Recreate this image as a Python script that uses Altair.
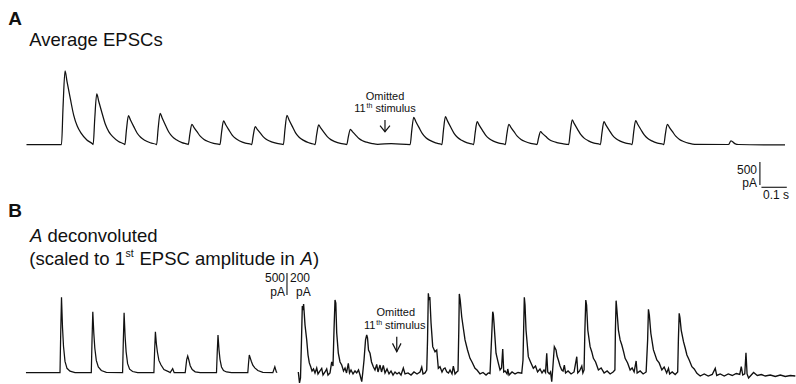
import altair as alt
import pandas as pd

FONT = "Liberation Sans"
INK = "#111111"

# ---------------- Panel A: average EPSCs (pA, ms) ----------------
a_stim_ms = [0, 125, 250, 375, 500, 625, 750, 875, 1000, 1125,
             1375, 1500, 1625, 1750, 1875, 2000, 2125, 2250, 2375]
a_offset_ms = [0, 6, 14, 22, 35, 48, 62, 78, 100, 122]
a_epsc_pA = [
    [0, 800, 1598, 1360, 990, 640, 400, 240, 96, 16],
    [0, 550, 1098, 935, 680, 440, 275, 165, 66, 11],
    [0, 313, 626, 532, 388, 250, 157, 94, 38, 6],
    [0, 339, 678, 576, 420, 271, 170, 102, 41, 7],
    [0, 220, 439, 373, 272, 176, 110, 66, 26, 4],
    [0, 256, 511, 434, 317, 204, 128, 77, 31, 5],
    [0, 194, 387, 329, 240, 155, 97, 58, 23, 4],
    [0, 318, 635, 540, 394, 254, 159, 95, 38, 6],
    [0, 212, 424, 360, 263, 170, 106, 64, 25, 4],
    [0, 165, 330, 281, 205, 132, 83, 50, 20, 3],
    [0, 296, 591, 502, 366, 236, 148, 89, 35, 6],
    [0, 302, 604, 513, 374, 242, 151, 91, 36, 6],
    [0, 248, 496, 422, 308, 198, 124, 74, 30, 5],
    [0, 220, 439, 373, 272, 176, 110, 66, 26, 4],
    [0, 139, 278, 236, 172, 111, 70, 42, 17, 3],
    [0, 267, 533, 453, 330, 213, 133, 80, 32, 5],
    [0, 248, 496, 422, 308, 198, 124, 74, 30, 5],
    [0, 259, 517, 439, 321, 207, 129, 78, 31, 5],
    [0, 220, 439, 373, 272, 176, 110, 66, 26, 4],
]
a_extra_ms = [-138, -5, 1300, 2630, 2640, 2655, 2670, 2853]
a_extra_pA = [0, 0, 20, 0, 80, 20, 0, -10]

# ---------------- Panel B left: deconvoluted, stimuli 1-7 ----------------
bl_stim_ms = [0, 125, 250, 375, 500, 625, 750]
bl_offset_ms = [0, 3, 6, 10, 14, 20, 28, 40, 60]
bl_pA = [
    [0, 940, 1714, 1030, 600, 257, 100, 34, 0],
    [0, 760, 1387, 900, 560, 280, 130, 50, 10],
    [0, 750, 1364, 820, 480, 205, 80, 27, 0],
    [0, 510, 932, 650, 470, 280, 180, 70, 20],
    [0, 150, 300, 380, 300, 160, 70, 20, 0],
    [0, 470, 857, 520, 300, 130, 50, 17, 0],
    [0, 220, 402, 330, 260, 170, 110, 50, 10],
]
bl_extra_ms = [-136, 440, 450, 456, 850, 858, 864, 867]
bl_extra_pA = [0, 0, 90, 0, 0, 136, 20, 0]

# ---------------- Panel B right: deconvoluted, stimuli 8-20 (200 pA scale) ----------------
br_ms = [859.8, 864.6, 868.6, 872.6, 875.8, 878.6, 881.0, 886.6, 893.4, 898.6,
         903.8, 909.4, 914.6, 920.6, 926.5, 933.3, 938.5, 946.5, 953.3, 958.5,
         966.5, 973.2, 978.4, 986.4, 993.2, 998.4, 1002.4, 1006.4, 1009.6, 1013.2,
         1019.6, 1026.4, 1033.2, 1040.4, 1046.4, 1052.4, 1059.5, 1064.3, 1070.3, 1078.3,
         1086.3, 1093.1, 1100.3, 1106.3, 1113.1, 1117.1, 1122.3, 1128.3, 1133.0, 1136.2,
         1140.2, 1146.2, 1152.2, 1159.4, 1166.1, 1172.9, 1178.1, 1186.1, 1192.1, 1199.3,
         1206.1, 1214.1, 1222.1, 1230.1, 1238.1, 1246.1, 1254.1, 1262.0, 1270.0, 1279.2,
         1286.0, 1298.0, 1310.0, 1321.9, 1333.9, 1345.9, 1352.7, 1357.9, 1365.9, 1372.7,
         1375.9, 1379.1, 1381.9, 1385.1, 1389.9, 1396.6, 1405.8, 1412.6, 1419.0, 1425.7,
         1433.7, 1439.7, 1445.7, 1452.5, 1459.7, 1465.7, 1473.7, 1478.9, 1485.7, 1492.5,
         1497.6, 1500.8, 1502.8, 1506.4, 1512.4, 1517.6, 1525.6, 1535.6, 1545.5, 1553.5,
         1565.5, 1573.5, 1585.5, 1597.5, 1609.5, 1618.6, 1625.4, 1631.4, 1636.2, 1638.6,
         1641.4, 1649.4, 1657.4, 1665.4, 1671.4, 1676.2, 1680.2, 1685.4, 1693.4, 1696.2,
         1701.4, 1713.4, 1725.4, 1737.3, 1752.1, 1757.2, 1762.4, 1765.2, 1769.2, 1778.4,
         1787.2, 1798.4, 1807.2, 1815.2, 1825.1, 1833.1, 1841.1, 1847.1, 1851.9, 1855.9,
         1862.3, 1867.1, 1871.9, 1877.1, 1882.3, 1889.1, 1893.1, 1898.3, 1905.1, 1911.9,
         1917.1, 1922.3, 1927.1, 1937.1, 1949.1, 1961.1, 1971.9, 1975.9, 1983.1, 1991.9,
         1996.3, 2001.1, 2004.3, 2007.9, 2011.1, 2015.9, 2025.1, 2031.9, 2038.3, 2047.1,
         2058.3, 2069.1, 2081.1, 2093.1, 2105.1, 2117.0, 2124.2, 2126.2, 2129.0, 2132.2,
         2138.2, 2145.0, 2151.8, 2159.0, 2165.0, 2175.0, 2185.0, 2193.0, 2201.0, 2209.0,
         2213.0, 2225.0, 2236.9, 2248.9, 2254.9, 2258.1, 2261.7, 2267.7, 2278.1, 2291.7,
         2300.9, 2311.7, 2320.9, 2330.9, 2338.1, 2342.9, 2352.9, 2364.9, 2374.9, 2377.7,
         2380.9, 2384.1, 2388.9, 2398.1, 2404.9, 2411.7, 2420.9, 2431.7, 2440.9, 2451.7,
         2464.9, 2480.9, 2496.9, 2512.9, 2524.9, 2530.9, 2544.8, 2560.8, 2576.8, 2592.8,
         2608.8, 2622.8, 2628.8, 2634.8, 2642.8, 2647.6, 2652.0, 2658.0, 2668.8, 2678.0,
         2692.8, 2708.8, 2724.8, 2744.8, 2764.8, 2784.8, 2804.8, 2824.7, 2844.7]
br_pA = [23, -77, -32, 314, 623, 586, 641, 450, 314, 177,
         105, 71, 32, 50, 14, 59, 5, 32, 55, -5,
         23, 50, -5, 14, 114, 77, 404, 677, 650, 377,
         195, 114, 86, 32, 59, 14, 102, 14, 41, 5,
         32, 14, 41, -5, -65, 14, 132, 314, 359, 332,
         223, 193, 114, 71, 41, 91, 23, 86, 23, 82,
         14, 50, 5, 32, -5, 23, 5, 18, -5, 59,
         5, 14, -5, 23, 5, 23, 68, 5, 14, 41,
         314, 738, 677, 704, 468, 253, 207, 223, 56, 71,
         23, 50, 59, 25, 14, 41, 5, 77, 5, 23,
         32, 404, 732, 677, 525, 441, 314, 223, 147, 114,
         56, 41, 5, 18, -5, 14, 9, 314, 571, 550,
         465, 193, 114, 41, 59, 232, 23, 32, 5, 50,
         -5, 23, 5, 18, 11, 132, 702, 632, 404, 162,
         114, 56, 77, 23, 50, 14, 41, 18, 193, 23,
         5, 23, -65, 86, 253, 223, 168, 132, 77, 41,
         32, 86, 14, 32, 5, 23, 162, 14, 32, 77,
         14, 41, 404, 677, 632, 404, 253, 205, 147, 114,
         41, 59, 14, 32, 5, 23, 41, 404, 671, 586,
         404, 314, 268, 205, 147, 105, 41, 59, 23, 123,
         14, 32, 5, 23, 314, 593, 541, 375, 223, 132,
         105, 41, 68, 14, 56, 5, 23, 0, 23, 314,
         556, 514, 404, 298, 241, 177, 132, 71, 50, 11,
         -14, 5, -14, 0, 56, -9, 5, -14, 5, -9,
         9, 0, 71, -5, 5, 198, 5, -32, -5, 18,
         -9, 0, -14, -5, -18, -5, -18, -9, -14]

# annotation anchors (data units)
omit_a_ms, omit_a_top_pA, omit_a_tip_pA = 1275.6, 532, 278
omit_b_ms, omit_b_top_pA, omit_b_tip_pA = 1253, 344, 207

# ---------------- build tables ----------------
def trace(stims, offsets, values, extra_t, extra_v):
    rows = [(s + o, v) for s, vals in zip(stims, values) for o, v in zip(offsets, vals)]
    rows += list(zip(extra_t, extra_v))
    return pd.DataFrame(rows, columns=["t", "i"]).sort_values("t")

a_df = trace(a_stim_ms, a_offset_ms, a_epsc_pA, a_extra_ms, a_extra_pA)
bl_df = trace(bl_stim_ms, bl_offset_ms, bl_pA, bl_extra_ms, bl_extra_pA)
br_df = pd.DataFrame({"t": br_ms, "i": br_pA})

def sc(lo, hi):
    return alt.Scale(domain=[lo, hi], nice=False, zero=False)

XA, YA = sc(-242.5, 2896.3), sc(-5206.7, 3141.4)
XBL, YBL = sc(-239.6, 2939.3), sc(-256.8, 8471.5)
XBR, YBR = sc(-331.5, 2847.4), sc(-86.4, 3404.2)


def line(df, xs, ys, width=1.2, interp="linear"):
    return alt.Chart(df).mark_line(color=INK, strokeWidth=width, interpolate=interp).encode(
        x=alt.X("t:Q", scale=xs, axis=None), y=alt.Y("i:Q", scale=ys, axis=None))


def vrule(t, i1, i2, xs, ys, width=1.1):
    return alt.Chart(pd.DataFrame({"t": [t], "i": [i1], "i2": [i2]})).mark_rule(
        color=INK, strokeWidth=width).encode(
        x=alt.X("t:Q", scale=xs, axis=None), y=alt.Y("i:Q", scale=ys, axis=None), y2="i2:Q")


def hrule(t1, t2, i, xs, ys, width=1.1):
    return alt.Chart(pd.DataFrame({"t": [t1], "t2": [t2], "i": [i]})).mark_rule(
        color=INK, strokeWidth=width).encode(
        x=alt.X("t:Q", scale=xs, axis=None), x2="t2:Q", y=alt.Y("i:Q", scale=ys, axis=None))


def arrow(t, top, tip, half_ms, head_pA, xs, ys):
    head = pd.DataFrame({"t": [t - half_ms, t, t + half_ms], "i": [tip + head_pA, tip, tip + head_pA]})
    return [vrule(t, top, tip, xs, ys, 1.2), line(head, xs, ys, 1.2)]


def label(text, x, y, size, weight="normal", style="normal", align="left"):
    return alt.Chart(pd.DataFrame({"k": [0]})).mark_text(
        font=FONT, fontSize=size, fontWeight=weight, fontStyle=style, align=align,
        baseline="alphabetic", color=INK).encode(
        x=alt.value(x), y=alt.value(y), text=alt.value(text))


layers = [
    line(a_df, XA, YA, 1.25, "monotone"),
    line(bl_df, XBL, YBL, 1.25),
    line(br_df, XBR, YBR, 1.35),
    # scale bars
    vrule(2754, -380, -880, XA, YA),
    hrule(2760, 2860, -930, XA, YA),
    vrule(906.5, 1766, 2266, XBL, YBL),
]
layers += arrow(omit_a_ms, omit_a_top_pA, omit_a_tip_pA, 19.5, 131, XA, YA)
layers += arrow(omit_b_ms, omit_b_top_pA, omit_b_tip_pA, 17, 76, XBR, YBR)

H = 18.5
layers += [
    label("A", 8.3, 25, 19, weight="bold"),
    label("Average EPSCs", 29.3, 45.7, H),
    label("B", 8.3, 217, 19, weight="bold"),
    label("A", 30, 242, H, style="italic"),
    label("deconvoluted", 47.4, 242, H),
    label("(scaled to 1", 29.3, 265, H),
    label("st", 125.4, 257, 10.5),
    label("EPSC amplitude in", 139.5, 265, H),
    label("A", 300.5, 265, H, style="italic"),
    label(")", 313, 265, H),
    # omitted annotations
    label("Omitted", 385, 100, 11, align="center"),
    label("11", 354.3, 112.3, 11),
    label("th", 366.5, 108, 7),
    label("stimulus", 375.4, 112.3, 11),
    label("Omitted", 395.8, 316, 11, align="center"),
    label("11", 364, 329, 11),
    label("th", 376.2, 324.7, 7),
    label("stimulus", 385.1, 329, 11),
    # scale bar labels
    label("500", 757, 174, 12, align="right"),
    label("pA", 757, 187, 12, align="right"),
    label("0.1 s", 776, 199, 12, align="center"),
    label("500", 285, 282, 12, align="right"),
    label("pA", 285, 295.5, 12, align="right"),
    label("200", 290, 282, 12),
    label("pA", 296, 295.5, 12),
]

chart = alt.layer(*layers).resolve_scale(x="independent", y="independent").properties(
    width=796, height=384, padding=0, autosize="none", background="white"
).configure_view(stroke=None)

chart.save("out.html", embed_options={"renderer": "svg", "actions": False})
